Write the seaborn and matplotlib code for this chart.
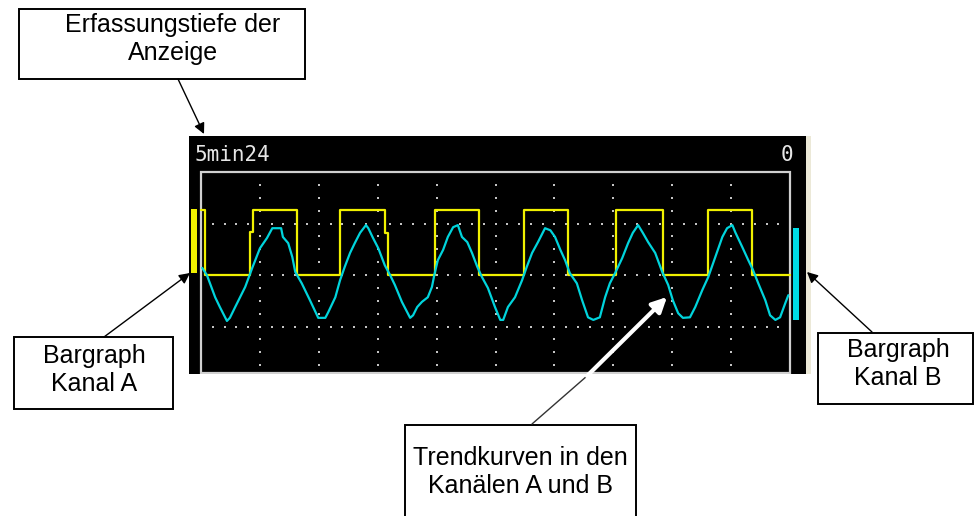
import numpy as np
import pandas as pd
import seaborn as sns
import matplotlib.pyplot as plt
from matplotlib.patches import Rectangle

sns.set_style("white")
plt.rcParams["font.family"] = ["Liberation Sans", "DejaVu Sans"]

# channel A trend (square wave), time in screen divisions
a_time = [0, 0.07, 0.83, 0.88, 1.63, 2.36, 3.12, 3.17, 3.97, 4.72,
          5.48, 6.23, 7.05, 7.84, 8.61, 9.35, 10.0]
a_level = [1.26, 0, 0.83, 1.26, 0, 1.26, 0.81, 0, 1.26, 0,
           1.26, 0, 1.26, 0, 1.26, 0, 0]

# channel B trend (triangle-ish wave)
b_time = [0.02, 0.10, 0.24, 0.32, 0.44, 0.49, 0.58, 0.75, 0.87, 1.00,
          1.12, 1.21, 1.36, 1.39, 1.48, 1.55, 1.60, 1.71, 1.85, 1.99,
          2.11, 2.16, 2.28, 2.36, 2.44, 2.53, 2.61, 2.70, 2.80, 2.84,
          2.92, 3.01, 3.12, 3.21, 3.29, 3.41, 3.55, 3.60, 3.67, 3.75,
          3.85, 3.92, 3.96, 4.02, 4.11, 4.19, 4.28, 4.36, 4.43, 4.52,
          4.60, 4.69, 4.77, 4.87, 4.99, 5.08, 5.13, 5.21, 5.33, 5.45,
          5.53, 5.62, 5.72, 5.84, 5.93, 6.01, 6.10, 6.18, 6.26, 6.38,
          6.47, 6.57, 6.66, 6.77, 6.86, 6.94, 7.03, 7.15, 7.25, 7.33,
          7.42, 7.50, 7.59, 7.71, 7.83, 7.93, 8.01, 8.10, 8.18, 8.30,
          8.39, 8.51, 8.61, 8.73, 8.85, 8.93, 9.02, 9.07, 9.19, 9.29,
          9.37, 9.46, 9.58, 9.66, 9.75, 9.83, 9.92, 9.97]
b_value = [0.14, 0.0, -0.43, -0.62, -0.89, -0.83, -0.62, -0.23, 0.14, 0.52,
           0.72, 0.91, 0.91, 0.74, 0.62, 0.35, 0.06, -0.16, -0.49, -0.83,
           -0.83, -0.72, -0.43, -0.10, 0.16, 0.43, 0.62, 0.82, 0.97, 0.91,
           0.72, 0.52, 0.19, 0.0, -0.19, -0.52, -0.83, -0.78, -0.62, -0.52,
           -0.43, -0.23, 0.0, 0.29, 0.49, 0.74, 0.93, 0.97, 0.74, 0.64,
           0.43, 0.16, -0.04, -0.25, -0.62, -0.87, -0.87, -0.62, -0.43, -0.10,
           0.16, 0.43, 0.64, 0.91, 0.87, 0.74, 0.49, 0.29, 0.04, -0.16,
           -0.49, -0.82, -0.87, -0.82, -0.43, -0.16, 0.04, 0.33, 0.62, 0.82,
           0.97, 0.82, 0.64, 0.43, 0.06, -0.19, -0.49, -0.74, -0.83, -0.82,
           -0.62, -0.29, -0.04, 0.35, 0.74, 0.91, 0.97, 0.83, 0.54, 0.29,
           0.10, -0.16, -0.49, -0.78, -0.87, -0.82, -0.54, -0.39]

# bargraphs (bottom, top) and their positions left/right of the screen
bar_pos = [-0.12, 10.10]
bar_low = [0.04, -0.87]
bar_high = [1.28, 0.91]
bar_colors = ["#f0f000", "#00dde6"]

depth_label = "5min24"
right_label = "0"

df_a = pd.DataFrame({"t": a_time, "v": a_level})
df_b = pd.DataFrame({"t": b_time, "v": b_value})

W, H = 974, 516
fig = plt.figure(figsize=(W / 100, H / 100), dpi=100)

# screen area (black), in pixel box 189..806 x 136..374
ax = fig.add_axes([189 / W, 1 - 374 / H, (806 - 189) / W, (374 - 136) / H])
ax.set_facecolor("black")
ax.set_xlim(-0.204, 10.27)
ax.set_ylim(-1.92, 2.70)
ax.set_xticks([])
ax.set_yticks([])
for s in ax.spines.values():
    s.set_visible(False)

# dotted grid
gx = np.arange(1, 10)
gy = np.arange(-1.75, 1.8, 0.25)
XX, YY = np.meshgrid(gx, gy)
ax.scatter(XX.ravel(), YY.ravel(), s=2.2, marker="s", color="#c4c4c4", linewidths=0, zorder=1)
hx = np.arange(0.2, 10, 0.2)
for yv in (-1, 0, 1):
    ax.scatter(hx, np.full_like(hx, yv), s=2.2, marker="s", color="#c4c4c4", linewidths=0, zorder=1)

# frame
ax.add_patch(Rectangle((0, -1.90), 10, 3.90, fill=False, edgecolor="#d0d0d0", lw=1.6, zorder=2))

sns.lineplot(data=df_a, x="t", y="v", ax=ax, color="#f0f000", lw=1.6,
             drawstyle="steps-post", estimator=None, sort=False, zorder=3)
sns.lineplot(data=df_b, x="t", y="v", ax=ax, color="#00d4dc", lw=1.6,
             estimator=None, sort=False, zorder=4)
ax.set_xlabel("")
ax.set_ylabel("")

for p, lo, hi, c in zip(bar_pos, bar_low, bar_high, bar_colors):
    ax.bar(p, hi - lo, bottom=lo, width=0.1, color=c, linewidth=0, zorder=5)

ax.text(-0.11, 2.33, depth_label, color="#e6e6e6", fontsize=15,
        family="DejaVu Sans Mono", ha="left", va="center")
ax.text(10.05, 2.33, right_label, color="#e6e6e6", fontsize=15,
        family="DejaVu Sans Mono", ha="right", va="center")

# overlay for callouts, pixel coordinates
ov = fig.add_axes([0, 0, 1, 1], zorder=10)
ov.set_xlim(0, W)
ov.set_ylim(H, 0)
ov.set_axis_off()
ov.patch.set_alpha(0)

ov.add_patch(Rectangle((806, 136), 5, 238, color="#ece9d8", lw=0))

boxes = [
    ((19, 9, 286, 70), "Erfassungstiefe der\nAnzeige", (173, 39)),
    ((14, 337, 159, 72), "Bargraph\nKanal A", (94, 370)),
    ((818, 333, 155, 71), "Bargraph\nKanal B", (898, 364)),
    ((405, 425, 231, 95), "Trendkurven in den\nKanälen A und B", (520, 472)),
]
for (x0, y0, w, h), txt, (tx, ty) in boxes:
    ov.add_patch(Rectangle((x0, y0), w, h, fill=True, facecolor="white",
                           edgecolor="black", lw=1.4))
    ov.text(tx, ty, txt, ha="center", va="center", fontsize=18,
            linespacing=1.25, color="black")

arrows = [((178, 79), (204, 134)), ((104, 337), (190, 273)), ((872, 332), (807, 272))]
for start, tip in arrows:
    ov.annotate("", xy=tip, xytext=start,
                arrowprops=dict(arrowstyle="-|>", color="black", lw=1.0,
                                mutation_scale=16, shrinkA=0, shrinkB=0))

ov.plot([532, 587], [424, 376], color="#333333", lw=1.0)
ov.annotate("", xy=(667, 297), xytext=(587, 376),
            arrowprops=dict(arrowstyle="-|>", color="white", lw=3,
                            mutation_scale=22, shrinkA=0, shrinkB=0))

fig.savefig("out.png", dpi=100, facecolor="white")
